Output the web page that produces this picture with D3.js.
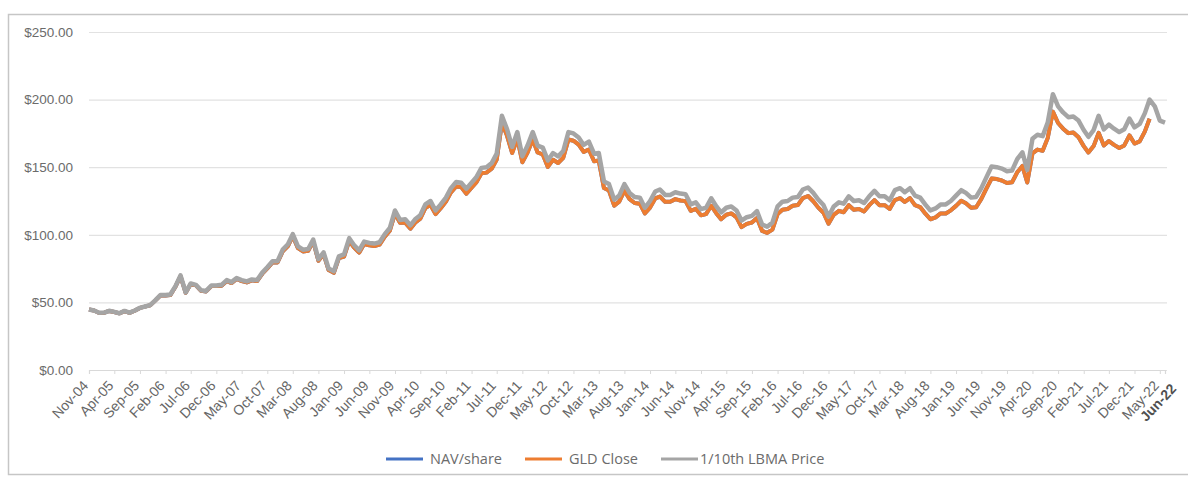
<!DOCTYPE html>
<html>
<head>
<meta charset="utf-8">
<script src="https://cdn.jsdelivr.net/npm/d3@7"></script>
<style>
    body { margin: 0; background: #ffffff; }
    svg { display: block; font-family: "Open Sans", "Liberation Sans", sans-serif; }
</style>
</head>
<body>
<svg id="chart" width="1188" height="477"></svg>
<script>
// monthly readings, first point is Nov-04 (18th of each month)
var lbmaTenth = [
    44.8, 44.0,
    42.3, 42.5, 43.8, 43.0, 42.0, 43.7, 42.4, 44.0, 46.0, 47.0, 48.0, 51.5,
    55.5, 55.5, 55.8, 62.0, 70.0, 57.5, 64.0, 63.0, 59.0, 58.5, 62.5, 62.5,
    63.0, 66.5, 65.0, 68.0, 66.5, 65.5, 67.0, 66.5, 72.0, 76.0, 80.5, 80.5,
    89.0, 93.0, 100.5, 91.5, 89.0, 89.5, 96.5, 82.0, 87.0, 75.0, 73.0, 84.0,
    85.5, 97.5, 92.5, 88.5, 95.0, 94.0, 93.5, 94.5, 100.5, 105.0, 118.0, 111.0,
    111.5, 107.0, 111.5, 114.5, 122.5, 125.0, 118.0, 122.5, 127.5, 134.5, 139.0, 138.5,
    134.0, 138.5, 142.5, 149.5, 150.0, 153.0, 160.0, 188.0, 178.0, 165.0, 176.0, 158.0,
    166.0, 176.0, 166.0, 164.5, 155.0, 160.5, 158.0, 162.0, 176.0, 175.0, 172.0, 166.5,
    169.0, 160.0, 160.5, 139.5, 137.5, 126.0, 129.0, 137.5, 131.0, 128.0, 127.5, 120.0,
    125.0, 132.0, 133.5, 129.5, 129.5, 131.5, 130.5, 130.0, 122.5, 124.0, 119.0, 120.0,
    127.0, 121.0, 116.5, 120.0, 121.0, 118.0, 110.5, 113.0, 114.0, 117.5, 107.5, 106.0,
    109.0, 121.0, 124.5, 125.0, 127.5, 128.0, 133.5, 135.0, 131.0, 126.0, 122.0, 113.5,
    121.0, 124.0, 123.0, 128.5, 125.0, 125.5, 123.5, 128.5, 132.5, 128.5, 128.5, 125.5,
    133.0, 134.5, 131.5, 134.5, 129.0, 127.5, 122.5, 118.0, 119.5, 122.5, 122.5, 125.0,
    129.0, 133.0, 131.0, 127.5, 128.0, 134.5, 142.5, 150.5, 150.0, 149.0, 147.0, 147.5,
    156.0, 161.0, 148.0, 171.0, 174.0, 173.0, 183.0, 204.0, 195.0, 190.5, 187.0, 187.5,
    184.5, 177.5, 172.5, 177.5, 188.0, 178.0, 181.5, 178.5, 176.0, 178.0, 186.0, 179.5,
    182.0, 190.0, 200.0, 195.0, 184.5, 183.0
]

var gldClose = [
    44.8, 44.0,
    42.2, 42.4, 43.7, 42.9, 41.9, 43.6, 42.3, 43.9, 45.9, 46.9, 47.9, 51.3,
    55.1, 55.1, 55.4, 61.6, 69.5, 57.1, 63.6, 62.6, 58.6, 58.1, 62.1, 62.1,
    62.3, 65.8, 64.3, 67.3, 65.8, 64.8, 66.3, 65.8, 71.2, 75.2, 79.6, 79.6,
    87.7, 91.6, 99.0, 90.1, 87.7, 88.2, 95.1, 80.8, 85.7, 73.9, 71.9, 82.7,
    83.9, 95.6, 90.7, 86.8, 93.2, 92.2, 91.7, 92.7, 98.6, 103.0, 115.8, 108.9,
    108.9, 104.5, 108.9, 111.9, 119.7, 122.1, 115.3, 119.7, 124.6, 131.4, 135.8, 135.3,
    130.4, 134.8, 138.7, 145.5, 146.0, 148.9, 155.7, 182.9, 173.2, 160.5, 171.2, 153.7,
    160.9, 170.5, 160.9, 159.4, 150.2, 155.5, 153.1, 157.0, 170.5, 169.6, 166.7, 161.3,
    163.1, 154.4, 154.9, 134.6, 132.7, 121.6, 124.5, 132.7, 126.4, 123.5, 123.0, 115.8,
    120.1, 126.9, 128.3, 124.4, 124.4, 126.4, 125.4, 124.9, 117.7, 119.2, 114.4, 115.3,
    121.5, 115.8, 111.5, 114.8, 115.8, 112.9, 105.7, 108.1, 109.1, 112.4, 102.9, 101.4,
    103.9, 115.3, 118.6, 119.1, 121.5, 122.0, 127.2, 128.7, 124.8, 120.1, 116.3, 108.2,
    114.8, 117.7, 116.7, 121.9, 118.6, 119.1, 117.2, 121.9, 125.7, 121.9, 121.9, 119.1,
    125.7, 127.1, 124.3, 127.1, 121.9, 120.5, 115.8, 111.5, 112.9, 115.8, 115.8, 118.1,
    121.4, 125.2, 123.3, 120.0, 120.4, 126.6, 134.1, 141.6, 141.2, 140.2, 138.3, 138.8,
    146.2, 150.9, 138.7, 160.2, 163.0, 162.1, 171.5, 191.1, 182.7, 178.5, 175.2, 175.7,
    172.1, 165.6, 160.9, 165.6, 175.4, 166.1, 169.3, 166.5, 164.2, 166.1, 173.5, 167.5,
    169.1, 176.5, 185.8
]

// NAV sits right under the close, same readings
var navShare = gldClose.slice()

var seriesNames = ["NAV/share", "GLD Close", "1/10th LBMA Price"]
var colorCodes = ["#4472C4", "#ED7D31", "#A5A5A5"]

var yTicks = [0, 50, 100, 150, 200, 250]
var tickLabels = ["Nov-04", "Apr-05", "Sep-05", "Feb-06", "Jul-06", "Dec-06", "May-07", "Oct-07",
    "Mar-08", "Aug-08", "Jan-09", "Jun-09", "Nov-09", "Apr-10", "Sep-10", "Feb-11", "Jul-11",
    "Dec-11", "May-12", "Oct-12", "Mar-13", "Aug-13", "Jan-14", "Jun-14", "Nov-14", "Apr-15",
    "Sep-15", "Feb-16", "Jul-16", "Dec-16", "May-17", "Oct-17", "Mar-18", "Aug-18", "Jan-19",
    "Jun-19", "Nov-19", "Apr-20", "Sep-20", "Feb-21", "Jul-21", "Dec-21", "May-22", "Jun-22"]

var startDate = new Date(2004, 10, 18)
var endDate = new Date(2022, 5, 18)
var plot = { left: 89, right: 1165, top: 32, bottom: 370 }

var svg = d3.select("#chart")

// outer frame
svg.append("rect")
    .attr("x", 8.5).attr("y", 14.5)
    .attr("width", 1190).attr("height", 460)
    .attr("fill", "none")
    .attr("stroke", "#c6c6c6")
    .attr("stroke-width", 1.5)

var xScale = d3.scaleTime()
    .domain([startDate, endDate])
    .range([plot.left, plot.right])

var yScale = d3.scaleLinear()
    .domain([0, 250])
    .range([plot.bottom, plot.top])

// gridlines + y labels
var yAxis = d3.axisLeft(yScale)
    .tickValues(yTicks)
    .tickSize(-(plot.right - plot.left + 2))
    .tickPadding(16)
    .tickFormat(d => "$" + d3.format(".2f")(d))

var gy = svg.append("g")
    .attr("transform", `translate(${plot.left}, 0)`)
    .call(yAxis)
gy.select(".domain").remove()
gy.selectAll("line").attr("stroke", "#e2e2e2").attr("stroke-width", 1.2)
gy.selectAll("text")
    .attr("fill", "#6b6b6b")
    .style("font-size", "13.5px")

// x axis, labels every 5 months
var parseLabel = d3.timeParse("%b-%y")
var tickDates = tickLabels.map(l => d3.timeDay.offset(parseLabel(l), 17))

var xAxis = d3.axisBottom(xScale)
    .tickValues(tickDates)
    .tickSize(4)
    .tickFormat((d, i) => tickLabels[i])

var gx = svg.append("g")
    .attr("transform", `translate(0, ${plot.bottom})`)
    .call(xAxis)
gx.select(".domain").attr("stroke", "#d9d9d9").attr("stroke-width", 1.2)
gx.selectAll(".tick line").attr("stroke", "#d9d9d9")
gx.selectAll("text")
    .attr("fill", "#666666")
    .style("font-size", "14px")
    .attr("text-anchor", "end")
    .attr("dy", "0.35em")
    .attr("x", 0).attr("y", 0)
    .attr("transform", (d, i) => i == tickLabels.length - 1
        ? "translate(8, 16) rotate(-47)" : "translate(-4, 13) rotate(-47)")
gx.selectAll("text").filter((d, i) => i == tickLabels.length - 1)
    .attr("fill", "#505050")
    .style("font-weight", "bold")

// lines, blue first so gray ends up on top
var allSeries = [navShare, gldClose, lbmaTenth]
var widths = [4, 4, 4.5]
var line = d3.line()
    .x((d, i) => xScale(d3.timeMonth.offset(startDate, i)))
    .y(d => yScale(d))

allSeries.forEach(function (s, k) {
    svg.append("path")
        .datum(s)
        .attr("d", line)
        .attr("fill", "none")
        .attr("stroke", colorCodes[k])
        .attr("stroke-width", widths[k])
        .attr("stroke-linejoin", "round")
})

// legend
var legendX = [386, 525, 661]
var legend = svg.selectAll(".legend")
    .data(seriesNames)
    .enter()
    .append("g")
    .attr("transform", (d, i) => `translate(${legendX[i]}, 459)`)

legend.append("line")
    .attr("x1", 0).attr("x2", 37)
    .attr("stroke", (d, i) => colorCodes[i])
    .attr("stroke-width", 3)
legend.append("text")
    .attr("x", (d, i) => i == 2 ? 39 : 44)
    .attr("dy", "0.35em")
    .attr("fill", "#6b6b6b")
    .style("font-size", "14.5px")
    .text(d => d)
</script>
</body>
</html>
